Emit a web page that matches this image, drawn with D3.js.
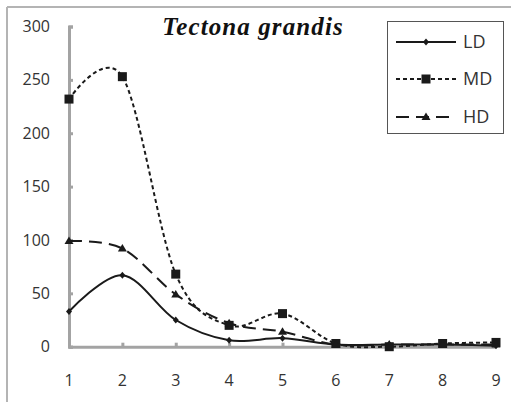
<html>
<head>
<meta charset="utf-8">
<title>Tectona grandis</title>
<script src="https://d3js.org/d3.v7.min.js"></script>
<style>
  body { margin: 0; background: #fff; }
</style>
</head>
<body>
<svg width="511" height="402"></svg>
<script>
// data
var xValues = [1, 2, 3, 4, 5, 6, 7, 8, 9];
var ldValues = [33, 67, 25, 6, 8, 2, 2, 2, 1];
var mdValues = [232, 253, 68, 20, 31, 3, 0, 3, 4];
var hdValues = [99, 92, 49, 22, 14, 2, 2, 2, 2];
var yTicks = [0, 50, 100, 150, 200, 250, 300];
var seriesNames = ["LD", "MD", "HD"];
var titleText = "Tectona grandis";

var svg = d3.select("svg");
var ink = "#1a1a1a", axisGray = "#a3a3a3";

// outer frame (top and left edge of the original chart border)
svg.append("line").attr("x1", 7).attr("y1", 7).attr("x2", 511).attr("y2", 7)
   .attr("stroke", "#b4b4b4").attr("stroke-width", 2);
svg.append("line").attr("x1", 7).attr("y1", 7).attr("x2", 7).attr("y2", 402)
   .attr("stroke", "#b4b4b4").attr("stroke-width", 2);

var x = d3.scaleLinear().domain([1, 9]).range([69, 496]);
var y = d3.scaleLinear().domain([0, 300]).range([346.7, 26.5]);

var g = svg.append("g");

// y axis
var yAxis = g.append("g")
   .attr("transform", "translate(69,0)")
   .call(d3.axisRight(y).tickValues(yTicks).tickSize(4).tickSizeOuter(4).tickFormat(""));
yAxis.selectAll("line, path").attr("stroke", axisGray).attr("stroke-width", 3);
g.selectAll(".ylab").data(yTicks).enter().append("text")
   .attr("x", 50).attr("y", d => y(d)).attr("dy", "0.35em")
   .attr("text-anchor", "end")
   .style("font-family", "'Open Sans', sans-serif").style("font-size", "16px")
   .attr("fill", "#333").text(d => d);

// x axis
var xAxis = g.append("g")
   .attr("transform", "translate(0,346.7)")
   .call(d3.axisTop(x).tickValues(xValues.slice(1)).tickSize(4).tickSizeOuter(0).tickFormat(""));
xAxis.selectAll("line, path").attr("stroke", axisGray).attr("stroke-width", 3);
g.selectAll(".xlab").data(xValues).enter().append("text")
   .attr("x", d => x(d)).attr("y", 380).attr("dy", "0.35em")
   .attr("text-anchor", "middle")
   .style("font-family", "'Open Sans', sans-serif").style("font-size", "16px")
   .attr("fill", "#333").text(d => d);

var series = [
  {name: "LD", values: ldValues, dash: null, sym: "diamond"},
  {name: "MD", values: mdValues, dash: "4,3", sym: "square"},
  {name: "HD", values: hdValues, dash: "13,7", sym: "triangle"}
];

// Excel-like smoothing: uniform Catmull-Rom
var line = d3.line()
   .x((d, i) => x(xValues[i]))
   .y(d => y(d))
   .curve(d3.curveCatmullRom.alpha(0));

function marker(sel, sym) {
  if (sym === "square") {
    sel.append("rect").attr("x", -4.5).attr("y", -4.5).attr("width", 9).attr("height", 9).attr("fill", ink);
  } else if (sym === "diamond") {
    sel.append("path").attr("d", "M0,-3.5L3,0L0,3.5L-3,0Z").attr("fill", ink);
  } else {
    sel.append("path").attr("d", "M0,-4.5L4.5,3L-4.5,3Z").attr("fill", ink);
  }
}

series.forEach(function(s) {
  g.append("path")
   .attr("d", line(s.values))
   .attr("fill", "none")
   .attr("stroke", ink)
   .attr("stroke-width", 2)
   .attr("stroke-dasharray", s.dash);
  s.values.forEach(function(v, i) {
    var m = g.append("g").attr("transform", "translate(" + x(xValues[i]) + "," + y(v) + ")");
    marker(m, s.sym);
  });
});

// title
svg.append("text")
   .attr("x", 253).attr("y", 35)
   .attr("text-anchor", "middle")
   .style("font-family", "'Liberation Serif', 'DejaVu Serif', serif")
   .style("font-style", "italic").style("font-weight", "bold")
   .style("font-size", "25px").style("letter-spacing", "1.1px")
   .attr("fill", "#111")
   .text(titleText);

// legend
var legend = svg.append("g");
legend.append("rect").attr("x", 387.5).attr("y", 21.5).attr("width", 116).attr("height", 112)
   .attr("fill", "#fff").attr("stroke", "#555").attr("stroke-width", 1);
var legendY = [42, 79, 117];
series.forEach(function(s, i) {
  var row = legend.append("g").attr("transform", "translate(0," + legendY[i] + ")");
  row.append("line").attr("x1", 396).attr("x2", 456).attr("y1", 0).attr("y2", 0)
     .attr("stroke", ink).attr("stroke-width", 2).attr("stroke-dasharray", s.dash);
  marker(row.append("g").attr("transform", "translate(426,0)"), s.sym);
  row.append("text").attr("x", 463).attr("y", 0).attr("dy", "0.36em")
     .style("font-family", "'Open Sans', sans-serif").style("font-size", "18px")
     .attr("fill", "#333").text(seriesNames[i]);
});
</script>
</body>
</html>
